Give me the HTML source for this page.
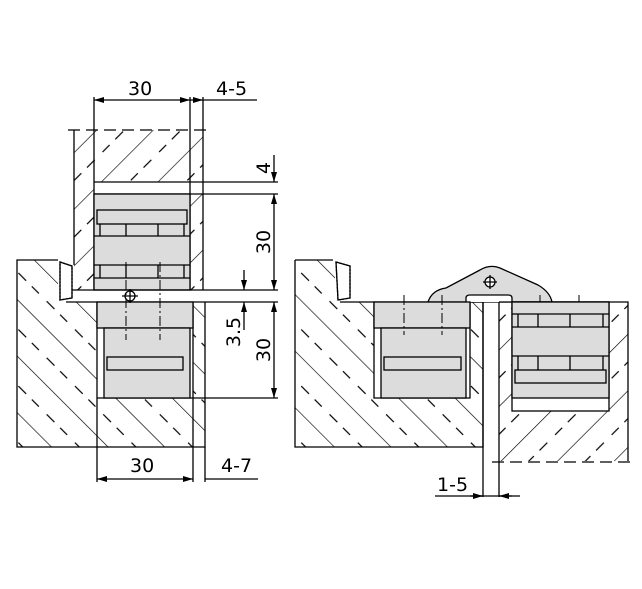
<!DOCTYPE html>
<html><head><style>body{margin:0;background:#fff}svg{display:block}text{font-family:"DejaVu Sans","Liberation Sans",sans-serif;font-size:19px;fill:#000}</style></head><body>
<svg width="642" height="589" viewBox="0 0 642 589" xmlns="http://www.w3.org/2000/svg">
<defs>
<pattern id="h1" patternUnits="userSpaceOnUse" width="40" height="40" patternTransform="rotate(45)">
<line x1="0" y1="0" x2="0" y2="40" stroke="#000" stroke-width="1.3"/>
<line x1="20" y1="6" x2="20" y2="17" stroke="#000" stroke-width="1.2"/>
<line x1="20" y1="25" x2="20" y2="35" stroke="#000" stroke-width="1.2"/>
</pattern>
<pattern id="h2" patternUnits="userSpaceOnUse" width="40" height="40" patternTransform="rotate(-45)">
<line x1="0" y1="0" x2="0" y2="40" stroke="#000" stroke-width="1.3"/>
<line x1="20" y1="6" x2="20" y2="17" stroke="#000" stroke-width="1.2"/>
<line x1="20" y1="25" x2="20" y2="35" stroke="#000" stroke-width="1.2"/>
</pattern>
<marker id="a" markerWidth="10" markerHeight="6" refX="10" refY="3" orient="auto-start-reverse" markerUnits="userSpaceOnUse"><path d="M0,0 L10,3 L0,6z" fill="#000"/></marker>
</defs>
<g stroke="#000" stroke-width="1.3" fill="none">
<!-- LEFT: upper door -->
<path d="M74,130 H203 V290 H74 Z" fill="url(#h1)" stroke="none"/>
<rect x="94" y="182" width="96" height="108" fill="#fff" stroke="none"/>
<path d="M74,130 V265 M94,97 V290 M190,97 V290 M203,97 V290"/>
<path d="M68,130 H210" stroke-dasharray="12,6"/>
<path d="M94,182 H278 M94,194 H278"/>
<rect x="94" y="194" width="96" height="96" fill="#dcdcdc"/>
<rect x="97" y="210" width="90" height="14" fill="#dcdcdc"/>
<path d="M100,224 V236 H184 V224 M126,224 V236 M158,224 V236 M94,236 H190 M94,265 H190 M100,265 V278 M184,265 V278 M126,265 V278 M158,265 V278 M94,278 H190"/>
<!-- gap band -->
<path d="M60,290 H278 M66,302 H278"/>
<!-- LEFT frame -->
<path d="M17,260 H58 V302 H97 V447 H17 Z" fill="url(#h2)" stroke="none"/>
<path d="M193,302 H205 V447 H97 V398 H193 Z" fill="url(#h2)" stroke="none"/>
<path d="M58,260 H17 V447 H205 V302 M97,302 V447 M193,302 V447 M97,398 H193"/>
<path d="M60,262 L72,266 V298 L60,300 Z" fill="#fff" stroke-dasharray="2,1.5"/>
<path d="M60,262 L72,266 V298 L60,300 Z"/>
<rect x="97" y="302" width="96" height="26" fill="#dcdcdc"/>
<rect x="104" y="328" width="86" height="70" fill="#dcdcdc"/>
<rect x="107" y="357" width="76" height="13" fill="#dcdcdc"/>
<circle cx="130" cy="296" r="5" fill="#fff"/><path d="M122,296 H138 M130,289 V303"/>
<path d="M126,262 V340 M160,262 V340" stroke-dasharray="10,3,2,3" stroke-width="1"/>
<!-- dims left -->
<path d="M94,100 H190" marker-start="url(#a)" marker-end="url(#a)"/>
<path d="M190,100 H203" marker-end="url(#a)"/><path d="M203,100 H257"/>
<path d="M97,447 V482 M193,447 V482 M205,447 V482"/>
<path d="M97,479 H193" marker-start="url(#a)" marker-end="url(#a)"/>
<path d="M205,479 H258"/>
<path d="M274,155 V182" marker-end="url(#a)"/>
<path d="M274,194 V290" marker-start="url(#a)" marker-end="url(#a)"/>
<path d="M274,302 V398" marker-start="url(#a)" marker-end="url(#a)"/>
<path d="M193,398 H278"/>
<path d="M244,270 V290" marker-end="url(#a)"/><path d="M244,330 V302" marker-end="url(#a)"/>
<!-- RIGHT frame -->
<path d="M295,260 H335 V302 H374 V398 H470 V302 H483 V447 H295 Z" fill="url(#h2)" stroke="none"/>
<path d="M295,260 H333 M295,260 V447 H483 V302 M340,302 H483 M374,302 V398 H470 V302"/>
<path d="M336,262 L350,266 V298 L338,300 Z" fill="#fff" stroke-dasharray="2,1.5"/>
<path d="M336,262 L350,266 V298 L338,300 Z"/>
<!-- hinge arm -->
<path d="M428,302 Q432,290 446,288 L480,270 Q490,264 500,268 L538,285 Q550,292 552,302 Z" fill="#dcdcdc"/>
<path d="M466,302 V298 Q466,295 470,295 H508 Q512,295 512,298 V302" fill="#fff"/>
<circle cx="490" cy="282" r="5" fill="#fff"/><path d="M483,282 H497 M490,275 V289"/>
<rect x="374" y="302" width="96" height="26" fill="#dcdcdc"/>
<rect x="381" y="328" width="85" height="70" fill="#dcdcdc"/>
<rect x="384" y="357" width="77" height="13" fill="#dcdcdc"/>
<path d="M404,295 V335 M442,295 V335 M540,295 V320 M579,295 V320" stroke-dasharray="10,3,2,3" stroke-width="1"/>
<!-- right door -->
<path d="M499,302 H628 V461 H499 Z" fill="url(#h1)" stroke="none"/>
<rect x="512" y="302" width="97" height="109" fill="#fff"/>
<path d="M483,302 V497 M499,302 V497 M499,302 H628 V461"/>
<path d="M492,462 H636" stroke-dasharray="12,6"/>
<rect x="512" y="302" width="97" height="96" fill="#dcdcdc"/>
<path d="M518,314 V327 M603,314 V327 M538,314 V327 M570,314 V327 M512,314 H609 M512,327 H609 M512,356 H609 M518,356 V370 M538,356 V370 M570,356 V370 M603,356 V370"/>
<rect x="515" y="370" width="91" height="13" fill="#dcdcdc"/>
<path d="M470,496 H483" marker-end="url(#a)"/><path d="M512,496 H499" marker-end="url(#a)"/>
<path d="M435,496 H520"/>
</g>
<text x="128" y="95">30</text>
<text x="216" y="95">4-5</text>
<text x="130" y="472">30</text>
<text x="221" y="472">4-7</text>
<text x="437" y="491">1-5</text>
<text transform="translate(270,168) rotate(-90)" text-anchor="middle">4</text>
<text transform="translate(270,242) rotate(-90)" text-anchor="middle">30</text>
<text transform="translate(270,350) rotate(-90)" text-anchor="middle">30</text>
<text transform="translate(240,332) rotate(-90)" text-anchor="middle">3.5</text>
</svg>
</body></html>
